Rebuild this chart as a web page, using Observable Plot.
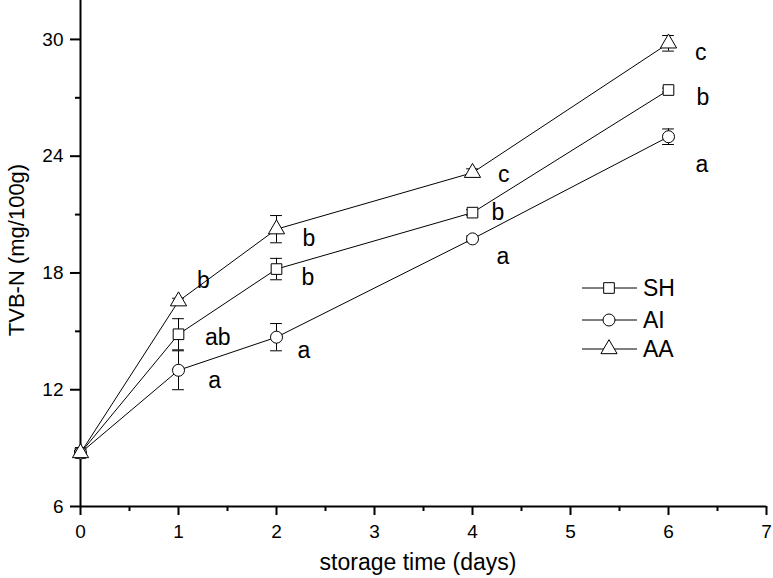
<!DOCTYPE html>
<html>
<head>
<meta charset="utf-8">
<script src="https://cdn.jsdelivr.net/npm/d3@7"></script>
<script src="https://cdn.jsdelivr.net/npm/@observablehq/plot@0.6"></script>
<style>
  body { margin: 0; background: #fff; }
  #wrap { position: relative; width: 773px; height: 578px; font-family: "Liberation Sans", Arial, sans-serif; }
  .title { position: absolute; color: #000; white-space: nowrap; }
  #wrap g[aria-label$="tick label"] { font-size: 19px !important; }
</style>
</head>
<body>
<div id="wrap"></div>
<script>
// ---- data ----
const days = [0, 1, 2, 4, 6];
const seriesNames = ["SH", "AI", "AA"];
const seriesSymbols = ["square", "circle", "triangle"];
const shMean = [8.75, 14.85, 18.2, 21.1, 27.4];
const shErr  = [0.1, 0.8, 0.55, 0.15, 0.1];
const aiMean = [8.75, 13.0, 14.7, 19.75, 25.0];
const aiErr  = [0.1, 1.0, 0.7, 0.15, 0.4];
const aaMean = [8.75, 16.55, 20.25, 23.15, 29.8];
const aaErr  = [0.1, 0.15, 0.7, 0.2, 0.4];
// significance letters and where they sit (read in data units)
const shLetters = ["ab", "b", "b", "b"];
const shLabelDay = [1.4, 2.32, 4.26, 6.35];
const shLabelVal = [14.7, 17.76, 21.09, 27.0];
const aiLetters = ["a", "a", "a", "a"];
const aiLabelDay = [1.37, 2.28, 4.31, 6.34];
const aiLabelVal = [12.45, 14.0, 18.83, 23.58];
const aaLetters = ["b", "b", "c", "c"];
const aaLabelDay = [1.255, 2.33, 4.32, 6.33];
const aaLabelVal = [17.59, 19.75, 23.07, 29.31];
const xTicks = [0, 1, 2, 3, 4, 5, 6, 7];
const xMinor = [0.5, 1.5, 2.5, 3.5, 4.5, 5.5, 6.5];
const yTicks = [6, 12, 18, 24, 30];
const yMinor = [9, 15, 21, 27];

// ---- build tables ----
const means = [shMean, aiMean, aaMean];
const errs = [shErr, aiErr, aaErr];
const pts = [];
seriesNames.forEach((s, i) => days.forEach((d, j) => pts.push({series: s, day: d, v: means[i][j], e: errs[i][j]})));
const labs = [];
[[shLetters, shLabelDay, shLabelVal], [aiLetters, aiLabelDay, aiLabelVal], [aaLetters, aaLabelDay, aaLabelVal]]
  .forEach(([L, X, Y]) => L.forEach((t, k) => labs.push({t, x: X[k], y: Y[k]})));

const capHalf = 0.06;
const chart = Plot.plot({
  width: 773,
  height: 578,
  marginLeft: 80,
  marginRight: 7,
  marginTop: 0,
  marginBottom: 72,
  style: {fontFamily: "Liberation Sans, Arial, sans-serif", fontSize: "19px", background: "#fff", color: "#000"},
  x: {domain: [0, 7], axis: null},
  y: {domain: [6, 32], axis: null},
  symbol: {domain: seriesNames, range: seriesSymbols},
  marks: [
    // axes
    Plot.axisX({ticks: xTicks, tickSize: 9, tickPadding: 9, strokeWidth: 2, fontSize: 19, label: null, tickFormat: d3.format("d")}),
    Plot.axisX({ticks: xMinor, tickSize: 5, strokeWidth: 2, text: null, label: null}),
    Plot.axisY({ticks: yTicks, tickSize: 10, tickPadding: 7, strokeWidth: 2, fontSize: 19, label: null, tickFormat: d3.format("d")}),
    Plot.axisY({ticks: yMinor, tickSize: 5, strokeWidth: 2, text: null, label: null}),
    Plot.ruleY([6], {stroke: "#000", strokeWidth: 2}),
    Plot.ruleX([0], {stroke: "#000", strokeWidth: 2}),
    // error bars
    Plot.ruleX(pts, {x: "day", y1: d => d.v - d.e, y2: d => d.v + d.e, stroke: "#000", strokeWidth: 1}),
    Plot.ruleY(pts, {y: d => d.v - d.e, x1: d => d.day - capHalf, x2: d => d.day + capHalf, stroke: "#000", strokeWidth: 1}),
    Plot.ruleY(pts, {y: d => d.v + d.e, x1: d => d.day - capHalf, x2: d => d.day + capHalf, stroke: "#000", strokeWidth: 1}),
    // lines
    Plot.line(pts, {x: "day", y: "v", z: "series", stroke: "#000", strokeWidth: 1}),
    // markers
    Plot.dot(pts, {x: "day", y: "v", symbol: "series", r: 6, fill: "#fff", stroke: "#000", strokeWidth: 1}),
    // letters
    Plot.text(labs, {x: "x", y: "y", text: "t", fontSize: 23, fill: "#000"})
  ]
});
const wrap = document.getElementById("wrap");
wrap.appendChild(chart);

// axis titles
const xt = document.createElement("div");
xt.className = "title";
xt.textContent = "storage time (days)";
xt.style.cssText = "left:418px; top:562px; transform: translate(-50%,-50%); font-size:23px;";
wrap.appendChild(xt);
const yt = document.createElement("div");
yt.className = "title";
yt.textContent = "TVB-N (mg/100g)";
yt.style.cssText = "left:17px; top:250px; transform: translate(-50%,-50%) rotate(-90deg); font-size:22px;";
wrap.appendChild(yt);

// legend
const lg = d3.select(wrap).append("svg")
  .attr("width", 130).attr("height", 100)
  .style("position", "absolute").style("left", "575px").style("top", "270px");
const rowsY = [18, 50, 79];
seriesNames.forEach((s, i) => {
  const g = lg.append("g").attr("transform", `translate(0,${rowsY[i]})`);
  g.append("line").attr("x1", 7).attr("x2", 62).attr("y1", 0).attr("y2", 0).attr("stroke", "#000");
  g.append("path").attr("transform", "translate(34,0)")
    .attr("d", d3.symbol(i === 0 ? d3.symbolSquare : i === 1 ? d3.symbolCircle : d3.symbolTriangle, Math.PI * 36)())
    .attr("fill", "#fff").attr("stroke", "#000");
  g.append("text").attr("x", 68).attr("y", 0).attr("dy", "0.35em")
    .attr("font-size", 23).attr("font-family", "Liberation Sans, Arial, sans-serif").text(s);
});
</script>
</body>
</html>
